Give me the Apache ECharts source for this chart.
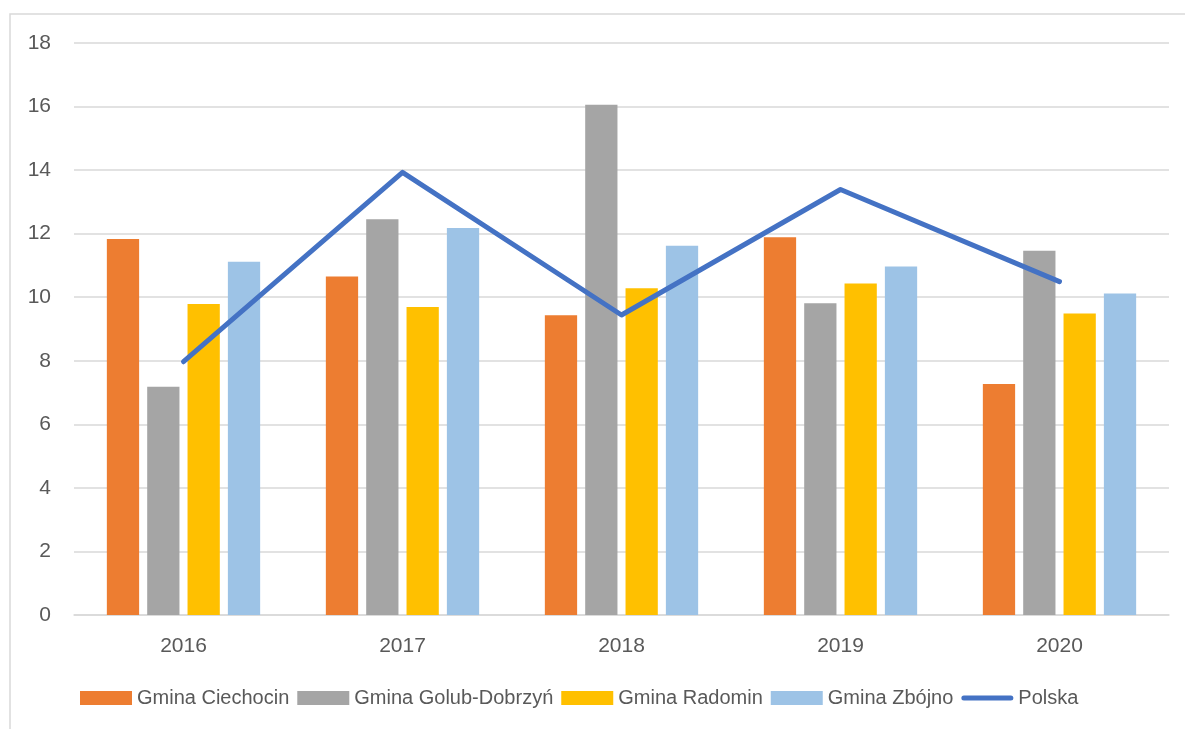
<!DOCTYPE html>
<html>
<head>
<meta charset="utf-8">
<script src="https://cdn.jsdelivr.net/npm/echarts@6/dist/echarts.min.js"></script>
<style>
  html, body { margin: 0; padding: 0; background: #ffffff; }
  #chart { width: 1185px; height: 729px; }
</style>
</head>
<body>
<div id="chart"></div>
<script>
const years = ['2016', '2017', '2018', '2019', '2020'];
const ciechocin = [11.83, 10.65, 9.43, 11.89, 7.27];
const golub = [7.18, 12.45, 16.06, 9.81, 11.46];
const radomin = [9.79, 9.69, 10.28, 10.43, 9.49];
const zbojno = [11.12, 12.18, 11.62, 10.97, 10.12];
const polska = [7.97, 13.93, 9.44, 13.39, 10.49];
const yTicks = [0, 2, 4, 6, 8, 10, 12, 14, 16, 18];

const FONT = "'Liberation Sans', Arial, sans-serif";
const TXT = '#595959';
const LINE_ICON = 'path://M2.5,0 L49.5,0 A2.5,2.5 0 0 1 49.5,5 L2.5,5 A2.5,2.5 0 0 1 2.5,0 Z';

const chart = echarts.init(document.getElementById('chart'), null, { renderer: 'canvas' });
chart.setOption({
  animation: false,
  backgroundColor: '#ffffff',
  textStyle: { fontFamily: FONT },
  graphic: [{
    type: 'rect',
    shape: { x: 10, y: 14, width: 1200, height: 800 },
    style: { fill: 'none', stroke: '#D9D9D9', lineWidth: 1.5 },
    silent: true
  }],
  grid: { left: 74, right: 16, top: 43, bottom: 114, containLabel: false },
  legend: {
    left: 80,
    top: 688,
    padding: 0,
    itemWidth: 52,
    itemHeight: 14,
    itemGap: 8,
    symbolKeepAspect: true,
    textStyle: { color: TXT, fontSize: 20, fontFamily: FONT },
    data: [
      { name: 'Gmina Ciechocin', icon: 'rect' },
      { name: 'Gmina Golub-Dobrzyń', icon: 'rect' },
      { name: 'Gmina Radomin', icon: 'rect' },
      { name: 'Gmina Zbójno', icon: 'rect' },
      { name: 'Polska', icon: LINE_ICON }
    ]
  },
  xAxis: {
    type: 'category',
    data: years,
    axisLine: { show: true, lineStyle: { color: '#D9D9D9', width: 1.5 } },
    axisTick: { show: false },
    axisLabel: { color: TXT, fontSize: 21, fontFamily: FONT, margin: 21 }
  },
  yAxis: {
    type: 'value',
    min: yTicks[0],
    max: yTicks[yTicks.length - 1],
    interval: 2,
    axisLine: { show: false },
    axisTick: { show: false },
    axisLabel: { color: TXT, fontSize: 21, fontFamily: FONT, margin: 23 },
    splitLine: { show: true, lineStyle: { color: '#D9D9D9', width: 1.5 } }
  },
  series: [
    { name: 'Gmina Ciechocin', type: 'bar', data: ciechocin, itemStyle: { color: '#ED7D31' }, barGap: '25%', barCategoryGap: '30%' },
    { name: 'Gmina Golub-Dobrzyń', type: 'bar', data: golub, itemStyle: { color: '#A5A5A5' }, barGap: '25%', barCategoryGap: '30%' },
    { name: 'Gmina Radomin', type: 'bar', data: radomin, itemStyle: { color: '#FFC000' }, barGap: '25%', barCategoryGap: '30%' },
    { name: 'Gmina Zbójno', type: 'bar', data: zbojno, itemStyle: { color: '#9DC3E6' }, barGap: '25%', barCategoryGap: '30%' },
    {
      name: 'Polska', type: 'line', data: polska,
      symbol: 'none', showSymbol: false,
      lineStyle: { color: '#4472C4', width: 5, cap: 'round', join: 'round' },
      itemStyle: { color: '#4472C4' },
      z: 5
    }
  ]
});
</script>
</body>
</html>
